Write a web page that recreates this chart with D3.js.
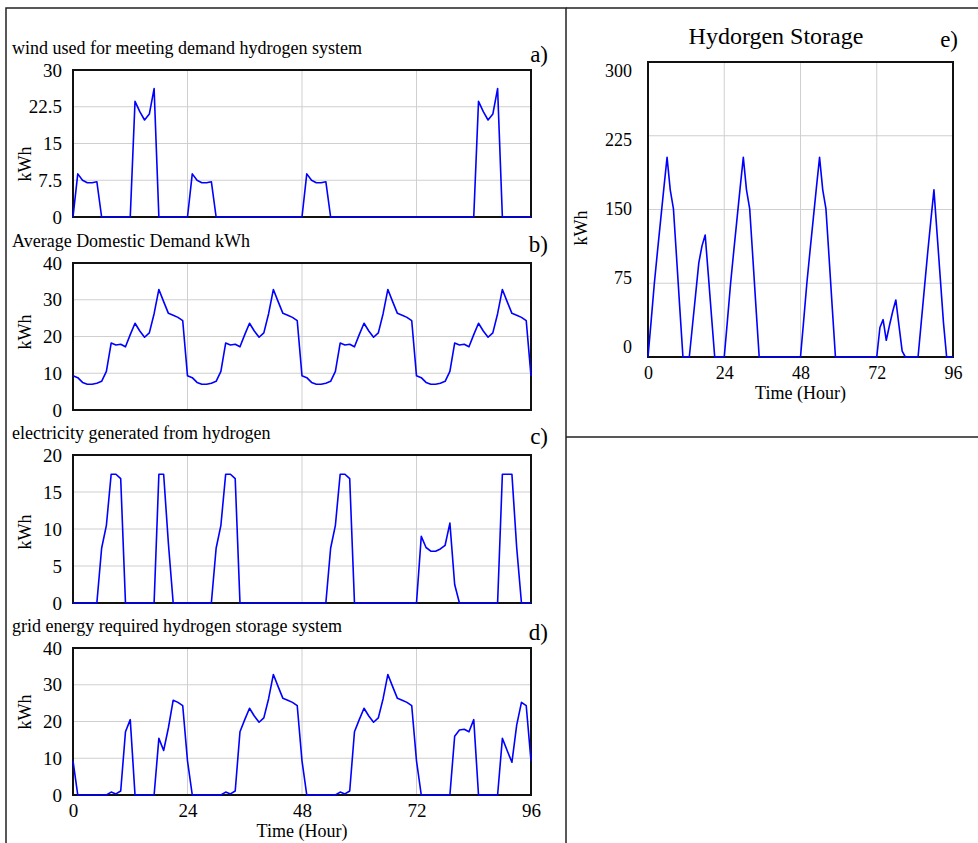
<!DOCTYPE html>
<html>
<head>
<meta charset="utf-8">
<script src="https://cdn.jsdelivr.net/npm/d3@7"></script>
<style>
  body { margin: 0; background: #fff; }
  svg { display: block; }
</style>
</head>
<body>
<svg id="chart" width="978" height="843"></svg>
<script>
/* global d3 */

// hourly time steps, 0..96
const HOURS = d3.range(0, 97)

const WIND_USED = [
  0, 8.8, 7.5, 7.0, 7.0, 7.2, 0, 0, 0, 0, 0, 0, 0, 23.6, 21.5, 19.8, 21.0, 26.2, 0, 0, 0, 0, 0, 0,
  0, 8.8, 7.5, 7.0, 7.0, 7.2, 0, 0, 0, 0, 0, 0, 0, 0, 0, 0, 0, 0, 0, 0, 0, 0, 0, 0,
  0, 8.8, 7.5, 7.0, 7.0, 7.2, 0, 0, 0, 0, 0, 0, 0, 0, 0, 0, 0, 0, 0, 0, 0, 0, 0, 0,
  0, 0, 0, 0, 0, 0, 0, 0, 0, 0, 0, 0, 0, 23.6, 21.5, 19.8, 21.0, 26.2, 0, 0, 0, 0, 0, 0,
  0
]

const DEMAND = [
  9.3, 8.8, 7.5, 7.0, 7.0, 7.3, 7.8, 10.5, 18.2, 17.7, 17.9, 17.2, 20.5, 23.6, 21.5, 19.8, 21.0, 26.2, 32.8, 29.5, 26.3, 25.8, 25.2, 24.3,
  9.3, 8.8, 7.5, 7.0, 7.0, 7.3, 7.8, 10.5, 18.2, 17.7, 17.9, 17.2, 20.5, 23.6, 21.5, 19.8, 21.0, 26.2, 32.8, 29.5, 26.3, 25.8, 25.2, 24.3,
  9.3, 8.8, 7.5, 7.0, 7.0, 7.3, 7.8, 10.5, 18.2, 17.7, 17.9, 17.2, 20.5, 23.6, 21.5, 19.8, 21.0, 26.2, 32.8, 29.5, 26.3, 25.8, 25.2, 24.3,
  9.3, 8.8, 7.5, 7.0, 7.0, 7.3, 7.8, 10.5, 18.2, 17.7, 17.9, 17.2, 20.5, 23.6, 21.5, 19.8, 21.0, 26.2, 32.8, 29.5, 26.3, 25.8, 25.2, 24.3,
  9.3
]

const H2_ELECTRICITY = [
  0, 0, 0, 0, 0, 0, 7.4, 10.5, 17.4, 17.4, 16.8, 0, 0, 0, 0, 0, 0, 0, 17.4, 17.4, 8.0, 0, 0, 0,
  0, 0, 0, 0, 0, 0, 7.4, 10.5, 17.4, 17.4, 16.8, 0, 0, 0, 0, 0, 0, 0, 0, 0, 0, 0, 0, 0,
  0, 0, 0, 0, 0, 0, 7.4, 10.5, 17.4, 17.4, 16.8, 0, 0, 0, 0, 0, 0, 0, 0, 0, 0, 0, 0, 0,
  0, 9.0, 7.5, 7.0, 7.0, 7.3, 7.8, 10.8, 2.5, 0, 0, 0, 0, 0, 0, 0, 0, 0, 17.4, 17.4, 17.4, 7.5, 0, 0,
  0
]

const GRID_ENERGY = [
  9.3, 0, 0, 0, 0, 0, 0, 0, 0.8, 0.3, 1.1, 17.2, 20.5, 0, 0, 0, 0, 0, 15.4, 12.1, 18.3, 25.8, 25.2, 24.3,
  9.3, 0, 0, 0, 0, 0, 0, 0, 0.8, 0.3, 1.1, 17.2, 20.5, 23.6, 21.5, 19.8, 21.0, 26.2, 32.8, 29.5, 26.3, 25.8, 25.2, 24.3,
  9.3, 0, 0, 0, 0, 0, 0, 0, 0.8, 0.3, 1.1, 17.2, 20.5, 23.6, 21.5, 19.8, 21.0, 26.2, 32.8, 29.5, 26.3, 25.8, 25.2, 24.3,
  9.3, 0, 0, 0, 0, 0, 0, 0, 16.0, 17.7, 17.9, 17.2, 20.5, 0, 0, 0, 0, 0, 15.4, 12.1, 8.9, 19.0, 25.2, 24.3,
  9.3
]

const H2_STORAGE = [
  0, 37, 75, 108, 140, 172, 203, 170, 151, 101, 50, 0, 0, 0, 32, 64, 96, 113, 124, 83, 41, 0, 0, 0,
  0, 37, 75, 108, 140, 172, 203, 170, 151, 101, 50, 0, 0, 0, 0, 0, 0, 0, 0, 0, 0, 0, 0, 0,
  0, 37, 75, 108, 140, 172, 203, 170, 151, 101, 50, 0, 0, 0, 0, 0, 0, 0, 0, 0, 0, 0, 0, 0,
  0, 30, 38, 17, 32, 46, 58, 32, 6, 0, 0, 0, 0, 0, 35, 70, 105, 138, 170, 125, 80, 35, 0, 0,
  0
]

const TIME_TICKS = [0, 24, 48, 72, 96]
const WIND_TICKS = [0, 7.5, 15, 22.5, 30]
const DEMAND_TICKS = [0, 10, 20, 30, 40]
const ELEC_TICKS = [0, 5, 10, 15, 20]
const GRID_TICKS = [0, 10, 20, 30, 40]
const STORAGE_TICKS = [0, 75, 150, 225, 300]

const TITLES = [
  'wind used for meeting demand hydrogen system',
  'Average Domestic Demand kWh',
  'electricity generated from hydrogen',
  'grid energy required hydrogen storage system',
  'Hydorgen Storage'
]
const LETTERS = ['a)', 'b)', 'c)', 'd)', 'e)']
const UNIT = 'kWh'
const TIME_LABEL = 'Time (Hour)'

const FONT = "'Liberation Serif', 'Times New Roman', serif"
const LINE_COLOR = '#0000ff'
const GRID_COLOR = '#cfcfcf'

const svg = d3.select('#chart')

// outer boxes
svg.append('rect')
  .attr('x', 6).attr('y', 8).attr('width', 560).attr('height', 860)
  .attr('fill', 'none').attr('stroke', '#222').attr('stroke-width', 1.5)
svg.append('path')
  .attr('d', 'M566,8H980M566,437H980')
  .attr('fill', 'none').attr('stroke', '#222').attr('stroke-width', 1.5)

function drawPanel (p) {
  const x = d3.scaleLinear().domain([0, 96]).range([p.left, p.right])
  const y = d3.scaleLinear()
    .domain([p.ticks[0], p.ticks[p.ticks.length - 1]])
    .range([p.bottom, p.top])

  const g = svg.append('g')

  // grid lines
  g.append('g').selectAll('line')
    .data(TIME_TICKS.slice(1, -1))
    .join('line')
    .attr('x1', d => x(d)).attr('x2', d => x(d))
    .attr('y1', p.top).attr('y2', p.bottom)
    .attr('stroke', GRID_COLOR).attr('stroke-width', 1)
  g.append('g').selectAll('line')
    .data(p.ticks.slice(1, -1))
    .join('line')
    .attr('x1', p.left).attr('x2', p.right)
    .attr('y1', d => y(d)).attr('y2', d => y(d))
    .attr('stroke', GRID_COLOR).attr('stroke-width', 1)

  // frame (under the series, so zero stretches show blue on the bottom edge)
  g.append('rect')
    .attr('x', p.left).attr('y', p.top)
    .attr('width', p.right - p.left).attr('height', p.bottom - p.top)
    .attr('fill', 'none').attr('stroke', '#111').attr('stroke-width', 2)

  // series
  const line = d3.line()
    .x((d, i) => x(HOURS[i]))
    .y(d => y(d))
  g.append('path')
    .datum(p.values)
    .attr('d', line)
    .attr('fill', 'none')
    .attr('stroke', LINE_COLOR)
    .attr('stroke-width', 1.6)
    .attr('stroke-linejoin', 'round')

  // y axis labels
  const yLabels = p.labelRange ? y.copy().range(p.labelRange) : y
  g.append('g')
    .attr('transform', `translate(${p.left},0)`)
    .call(d3.axisLeft(yLabels).tickValues(p.ticks).tickSize(0).tickPadding(p.tickPad).tickFormat(d3.format('~g')))
    .call(a => a.select('.domain').remove())
    .attr('font-family', FONT)
    .attr('font-size', p.tickSize)

  // x axis labels
  if (p.timeAxis) {
    g.append('g')
      .attr('transform', `translate(0,${p.bottom})`)
      .call(d3.axisBottom(x).tickValues(TIME_TICKS).tickSize(0).tickPadding(p.xPad))
      .call(a => a.select('.domain').remove())
      .attr('font-family', FONT)
      .attr('font-size', p.tickSize)
    g.append('text')
      .attr('x', (p.left + p.right) / 2)
      .attr('y', p.timeY)
      .attr('text-anchor', 'middle')
      .style('font-family', FONT)
      .style('font-size', '18px')
      .text(TIME_LABEL)
  }

  // unit label
  g.append('text')
    .attr('transform', `translate(${p.unitX}, ${p.unitY}) rotate(-90)`)
    .attr('text-anchor', 'middle')
    .style('font-family', FONT)
    .style('font-size', '18px')
    .text(UNIT)

  // title and panel letter
  g.append('text')
    .attr('x', p.titleX).attr('y', p.titleY)
    .attr('text-anchor', p.titleAnchor)
    .style('font-family', FONT)
    .style('font-size', p.titleSize)
    .text(p.title)
  g.append('text')
    .attr('x', p.letterX).attr('y', p.letterY)
    .attr('text-anchor', 'end')
    .style('font-family', FONT)
    .style('font-size', '23px')
    .text(p.letter)
}

const LEFT_PANELS = [
  { values: WIND_USED, ticks: WIND_TICKS, top: 70, bottom: 217, unitY: 164 },
  { values: DEMAND, ticks: DEMAND_TICKS, top: 263, bottom: 410, unitY: 332 },
  { values: H2_ELECTRICITY, ticks: ELEC_TICKS, top: 455, bottom: 603, unitY: 532 },
  { values: GRID_ENERGY, ticks: GRID_TICKS, top: 648, bottom: 795, unitY: 712 }
]

LEFT_PANELS.forEach((p, i) => {
  drawPanel({
    ...p,
    left: 73,
    right: 531,
    title: TITLES[i],
    letter: LETTERS[i],
    tickPad: 11,
    tickSize: '19px',
    xPad: 9,
    timeAxis: i === 3,
    timeY: 837,
    unitX: 31,
    titleX: 12,
    titleY: p.top - 16,
    titleAnchor: 'start',
    titleSize: '18px',
    letterX: 548,
    letterY: p.top - (i === 0 || i === 3 ? 8 : 11)
  })
})

drawPanel({
  values: H2_STORAGE,
  ticks: STORAGE_TICKS,
  left: 648,
  right: 953,
  top: 62,
  bottom: 357,
  labelRange: [347, 71],
  title: TITLES[4],
  letter: LETTERS[4],
  tickPad: 16,
  tickSize: '18px',
  xPad: 9,
  timeAxis: true,
  timeY: 399,
  unitX: 587,
  unitY: 228,
  titleX: 776,
  titleY: 44,
  titleAnchor: 'middle',
  titleSize: '24px',
  letterX: 958,
  letterY: 47
})
</script>
</body>
</html>
